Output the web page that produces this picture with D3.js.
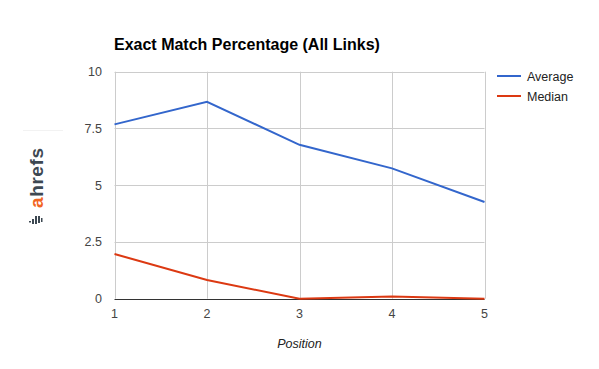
<!DOCTYPE html>
<html><head><meta charset="utf-8">
<script src="https://cdn.jsdelivr.net/npm/d3@7"></script>
<style>body{margin:0;background:#fff}svg{display:block}text{font-family:Arial,"Liberation Sans",sans-serif}</style>
</head><body>
<script>
const positions = [1, 2, 3, 4, 5];
const averageValues = [7.68, 8.67, 6.78, 5.74, 4.26];
const medianValues = [1.97, 0.82, 0.0, 0.1, 0.0];
const yTicks = [0, 2.5, 5, 7.5, 10];
const yTickLabels = ["0", "2.5", "5", "7.5", "10"];
const seriesNames = ["Average", "Median"];
const seriesColors = ["#3366cc", "#dc3912"];

const W = 599, H = 369;
const svg = d3.select("body").append("svg").attr("width", W).attr("height", H);
const x = d3.scaleLinear().domain([1, 5]).range([114.5, 484.5]);
const y = d3.scaleLinear().domain([0, 10]).range([298.7, 71.7]);

// watermark
const wm = svg.append("g");
wm.append("line").attr("x1", 23).attr("x2", 63).attr("y1", 130.5).attr("y2", 130.5).attr("stroke", "#f2f2f2");
const wt = wm.append("text").attr("transform", "translate(43,208) rotate(-90)")
  .attr("font-size", 19).attr("font-weight", "bold").attr("letter-spacing", 0.6);
wt.append("tspan").attr("fill", "#f26522").text("a");
wt.append("tspan").attr("fill", "#3d4852").text("hrefs");
// small icon
const ic = wm.append("g").attr("fill", "#3d4852");
[[29,221,2,1.5],[32,219,2,5],[35,216,2,8],[38,216,2,7],[41,218,1.5,4]].forEach(d=>{
  ic.append("rect").attr("x", d[0]).attr("y", d[1]).attr("width", d[2]).attr("height", d[3]);
});

// grid
const g = svg.append("g");
g.selectAll(".vg").data(positions).enter().append("line")
  .attr("x1", d => Math.round(x(d)) + 0.5).attr("x2", d => Math.round(x(d)) + 0.5)
  .attr("y1", y(10)).attr("y2", y(0)).attr("stroke", "#cccccc");
g.selectAll(".hg").data(yTicks.filter(d => d > 0)).enter().append("line")
  .attr("x1", x(1)).attr("x2", x(5))
  .attr("y1", d => Math.round(y(d)) + 0.5).attr("y2", d => Math.round(y(d)) + 0.5).attr("stroke", "#cccccc");
g.append("line").attr("x1", x(1)).attr("x2", x(5)).attr("y1", Math.round(y(0)) + 0.5).attr("y2", Math.round(y(0)) + 0.5).attr("stroke", "#333333");

// axes labels
svg.selectAll(".yl").data(yTicks).enter().append("text")
  .attr("x", 102).attr("y", d => y(d) + 4.5).attr("text-anchor", "end")
  .attr("font-size", 12.5).attr("fill", "#444").text((d, i) => yTickLabels[i]);
svg.selectAll(".xl").data(positions).enter().append("text")
  .attr("x", d => x(d)).attr("y", 318).attr("text-anchor", "middle")
  .attr("font-size", 12.5).attr("fill", "#444").text(d => d);
svg.append("text").attr("x", x(3)).attr("y", 348).attr("text-anchor", "middle")
  .attr("font-size", 12.5).attr("font-style", "italic").attr("fill", "#222").text("Position");

// title
svg.append("text").attr("x", 114).attr("y", 50).attr("font-size", 16).attr("font-weight", "bold")
  .attr("fill", "#000").text("Exact Match Percentage (All Links)");

// lines
const line = d3.line().x((d, i) => x(positions[i])).y(d => y(d));
[averageValues, medianValues].forEach((vals, i) => {
  svg.append("path").attr("d", line(vals)).attr("fill", "none")
    .attr("stroke", seriesColors[i]).attr("stroke-width", 2);
});

// legend
seriesNames.forEach((n, i) => {
  const ly = 76 + i * 20;
  svg.append("line").attr("x1", 497).attr("x2", 521).attr("y1", ly).attr("y2", ly)
    .attr("stroke", seriesColors[i]).attr("stroke-width", 2);
  svg.append("text").attr("x", 527).attr("y", ly + 4.5).attr("font-size", 12.5).attr("fill", "#222").text(n);
});
</script>
</body></html>
